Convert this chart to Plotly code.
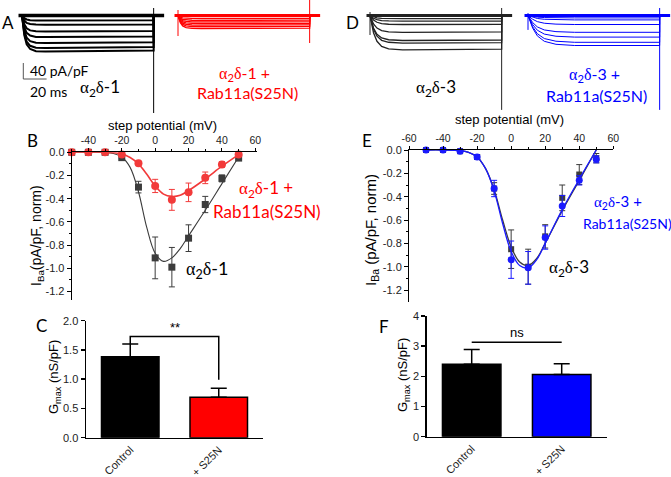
import plotly.graph_objects as go

W, H = 671, 477

# ---------------- data ----------------
# Panels A / D: current sweeps, steady amplitude of each sweep (pA/pF)
amp_a1_ctrl = [-12.5, -23, -40, -54, -69, -81.5, -90]
amp_a1_s25n = [-7.5, -12, -16, -20, -24, -28, -32.5]
amp_a3_ctrl = [-8, -14, -22.5, -42, -62.5, -69, -86]
amp_a3_s25n = [-6, -11, -22.5, -42, -54, -67, -75]
# activation time course read from the sweeps (ms, fraction of amplitude)
act_t_a1 = [0, 1, 2, 4, 7, 12, 20, 113]
act_f_a1 = [0, 0.3, 0.55, 0.8, 0.93, 0.99, 1.0, 0.97]
act_t_a3 = [0, 1.5, 3, 6, 10, 16, 28, 113]
act_f_a3 = [0, 0.25, 0.5, 0.75, 0.9, 0.97, 1.0, 0.98]
act_t_a3b = [0, 2, 4, 8, 14, 24, 40, 113]
act_f_a3b = [0, 0.2, 0.42, 0.68, 0.86, 0.96, 1.0, 1.0]
step_ms = 113
# transients at step onset / offset: [top, bottom] (pA/pF)
onset_a1_s25n = [13.75, -51.25]
onset_a3_ctrl = [8.75, -48.75]
onset_a3_s25n = [6, -36]
tail_a1_ctrl = [18.75, -243.75]
tail_a1_s25n = [38.75, -68.75]
tail_a3_ctrl = [18.75, -236]
tail_a3_s25n = [18.75, -236]
scale_pa = 40
scale_ms = 20

# Panels B / E: normalized I-V
volt = [-50, -40, -30, -20, -10, 0, 10, 20, 30, 40, 50]
b_ctrl = [0, 0, 0, -0.046, -0.30, -0.91, -0.99, -0.74, -0.45, -0.225, -0.05]
b_ctrl_err = [0, 0, 0, 0.01, 0.05, 0.18, 0.17, 0.115, 0.07, 0.03, 0.01]
b_s25n = [0, 0, 0, -0.02, -0.095, -0.29, -0.41, -0.345, -0.22, -0.105, -0.02]
b_s25n_err = [0, 0, 0, 0.01, 0.015, 0.057, 0.09, 0.08, 0.05, 0.025, 0.01]
e_ctrl = [0, 0, -0.01, -0.06, -0.33, -0.85, -1.0, -0.74, -0.41, -0.21, -0.07]
e_ctrl_err = [0, 0, 0.005, 0.02, 0.05, 0.165, 0.15, 0.1, 0.11, 0.085, 0.04]
e_s25n = [0, 0, -0.01, -0.06, -0.33, -0.94, -1.01, -0.75, -0.48, -0.26, -0.08]
e_s25n_err = [0, 0, 0.005, 0.02, 0.07, 0.16, 0.14, 0.1, 0.09, 0.04, 0.03]
# fitted curves
fit_v = [-50, -40, -30, -25, -20, -15, -10, -5, 0, 5, 10, 15, 20, 30, 40, 50]
fit_b_ctrl = [0, 0, -0.002, -0.01, -0.04, -0.13, -0.34, -0.65, -0.87, -0.94, -0.91, -0.83, -0.72, -0.5, -0.27, -0.04]
fit_b_s25n = [0, 0, 0, -0.003, -0.015, -0.045, -0.1, -0.19, -0.29, -0.36, -0.38, -0.37, -0.33, -0.23, -0.12, -0.02]
fit_e_ctrl = [0, 0, -0.005, -0.02, -0.06, -0.16, -0.34, -0.6, -0.83, -0.96, -0.99, -0.93, -0.8, -0.52, -0.26, 0.0]
fit_e_s25n = [0, 0, -0.005, -0.02, -0.06, -0.16, -0.35, -0.63, -0.87, -0.99, -1.01, -0.94, -0.8, -0.51, -0.25, 0.0]
iv_xticks = [-60, -40, -20, 0, 20, 40, 60]
iv_xticklabels = ["-60", "-40", "-20", "0", "20", "40", "60"]
iv_yticks = [0, -0.2, -0.4, -0.6, -0.8, -1.0, -1.2]
iv_yticklabels = ["0.0", "-0.2", "-0.4", "-0.6", "-0.8", "-1.0", "-1.2"]

# Panels C / F: Gmax
groups = ["Control", "+ S25N"]
gmax_a1 = [1.385, 0.69]
gmax_a1_err = [0.215, 0.155]
gmax_a3 = [2.4, 2.06]
gmax_a3_err = [0.49, 0.36]
c_yticks = [0, 0.5, 1.0, 1.5, 2.0]
c_yticklabels = ["0.0", "0.5", "1.0", "1.5", "2.0"]
f_yticks = [0, 1, 2, 3, 4]

# ---------------- figure ----------------
def px(x):
    return x / W


def py(y):
    return 1 - y / H


BLACK = "#000000"
RED = "#ff0000"
BLUE = "#0000ff"
SANS = "Liberation Sans, Arial, sans-serif"
HUM = "Lato, Open Sans, sans-serif"

fig = go.Figure()

# ---- trace strip (A and D)
MS_PER_PX = 20 / 23.3
PA_PER_PX = 2.5
BASE_PX = 15.5
T0_PX = 22
offsets = {"a1c": 0.0, "a1s": 156 * MS_PER_PX, "a3c": 348 * MS_PER_PX, "a3s": 506 * MS_PER_PX}


def sweeps(off, amps, kt, kf):
    xs, ys = [], []
    for a in amps:
        xs += [off + t for t in kt] + [off + step_ms, None]
        ys += [a * f for f in kf] + [0, None]
    return xs, ys


def add_group(off, amps, kt, kf, color, lw, blw, onset, tail):
    xs, ys = sweeps(off, amps, kt, kf)
    fig.add_trace(go.Scatter(x=xs, y=ys, mode="lines", line=dict(color=color, width=lw),
                             xaxis="x", yaxis="y", hoverinfo="skip", showlegend=False))
    fig.add_trace(go.Scatter(x=[off - 3, off + step_ms + 9], y=[0, 0], mode="lines",
                             line=dict(color=color, width=blw), xaxis="x", yaxis="y",
                             hoverinfo="skip", showlegend=False))
    vx, vy = [], []
    if onset is not None:
        vx += [off, off, None]
        vy += [onset[0], onset[1], None]
    vx += [off + step_ms, off + step_ms]
    vy += [tail[0], tail[1]]
    fig.add_trace(go.Scatter(x=vx, y=vy, mode="lines", line=dict(color=color, width=1),
                             xaxis="x", yaxis="y", hoverinfo="skip", showlegend=False))


add_group(offsets["a1c"], amp_a1_ctrl, act_t_a1, act_f_a1, BLACK, 2.0, 3.5, None, tail_a1_ctrl)
add_group(offsets["a1s"], amp_a1_s25n, act_t_a1, act_f_a1, RED, 1.3, 3, onset_a1_s25n, tail_a1_s25n)
add_group(offsets["a3c"], amp_a3_ctrl, act_t_a3, act_f_a3, "#222222", 1.3, 3, onset_a3_ctrl, tail_a3_ctrl)
add_group(offsets["a3s"], amp_a3_s25n, act_t_a3b, act_f_a3b, BLUE, 1.0, 3, onset_a3_s25n, tail_a3_s25n)

# scale bar
sb_x0 = 1.3 * MS_PER_PX
sb_y0 = -(79 - BASE_PX) * PA_PER_PX
fig.add_trace(go.Scatter(x=[sb_x0, sb_x0, sb_x0 + scale_ms], y=[sb_y0 + scale_pa, sb_y0, sb_y0],
                         mode="lines", line=dict(color="#555555", width=1), xaxis="x", yaxis="y",
                         hoverinfo="skip", showlegend=False))

# ---- I-V panels
def iv(xa, ya, v, y, err, color, symbol, size, fitv, fity, fitw):
    fig.add_trace(go.Scatter(x=fitv, y=fity, mode="lines", line=dict(color=color, width=fitw, shape="spline"),
                             xaxis=xa, yaxis=ya, hoverinfo="skip", showlegend=False, cliponaxis=False))
    fig.add_trace(go.Scatter(x=v, y=y, mode="markers",
                             marker=dict(color=color, symbol=symbol, size=size),
                             error_y=dict(type="data", array=err, color=color, thickness=1, width=3),
                             xaxis=xa, yaxis=ya, hoverinfo="skip", showlegend=False, cliponaxis=False))


iv("x2", "y2", volt, b_ctrl, b_ctrl_err, "#3c3c3c", "square", 7, fit_v, fit_b_ctrl, 1.1)
iv("x2", "y2", volt, b_s25n, b_s25n_err, "#f23a3a", "circle", 8, fit_v, fit_b_s25n, 1.6)
iv("x3", "y3", volt, e_ctrl, e_ctrl_err, "#3c3c3c", "square", 6, fit_v, fit_e_ctrl, 1.3)
iv("x3", "y3", volt, e_s25n, e_s25n_err, "#1a1aff", "circle", 7, fit_v, fit_e_s25n, 1.3)

# ---- Gmax bars
def bars(xa, ya, vals, errs, colors):
    fig.add_trace(go.Bar(x=groups, y=vals, width=0.65, marker=dict(color=colors, line=dict(color=BLACK, width=1.5)),
                         error_y=dict(type="data", array=errs, arrayminus=[0] * len(errs), symmetric=False,
                                      color=BLACK, thickness=1.5, width=8),
                         xaxis=xa, yaxis=ya, hoverinfo="skip", showlegend=False))


bars("x4", "y4", gmax_a1, gmax_a1_err, [BLACK, RED])
bars("x5", "y5", gmax_a3, gmax_a3_err, [BLACK, BLUE])

# significance brackets
fig.add_trace(go.Scatter(x=[groups[0], groups[0], groups[1], groups[1]], y=[1.6, 1.73, 1.73, 0.99],
                         mode="lines", line=dict(color=BLACK, width=1.5), xaxis="x4", yaxis="y4",
                         hoverinfo="skip", showlegend=False, cliponaxis=False))
fig.add_trace(go.Scatter(x=[groups[0], groups[1]], y=[3.13, 3.13],
                         mode="lines", line=dict(color=BLACK, width=1.5), xaxis="x5", yaxis="y5",
                         hoverinfo="skip", showlegend=False, cliponaxis=False))

# ---------------- layout ----------------
tick_font = dict(family=SANS, size=11, color="#222222")
xtick_font = dict(family=SANS, size=10.5, color="#222222")


def iv_xaxis(dom, rng):
    return dict(domain=dom, range=rng, side="top", showline=True, linecolor=BLACK, linewidth=1,
                ticks="outside", ticklen=3, tickcolor=BLACK, tickmode="array", tickvals=iv_xticks,
                ticktext=iv_xticklabels, tickfont=xtick_font, showgrid=False, zeroline=False,
                automargin=False,
                minor=dict(tickmode="array", tickvals=[-50, -30, -10, 10, 30, 50], ticks="outside",
                           ticklen=2, tickcolor=BLACK))


def iv_yaxis(dom, rng, anchor):
    return dict(domain=dom, range=rng, anchor=anchor, showline=True, linecolor=BLACK, linewidth=1,
                ticks="outside", ticklen=4, tickcolor=BLACK, tickmode="array", tickvals=iv_yticks,
                ticktext=iv_yticklabels, tickfont=tick_font, showgrid=False, zeroline=False,
                automargin=False,
                minor=dict(tickmode="array", tickvals=[-0.1, -0.3, -0.5, -0.7, -0.9, -1.1],
                           ticks="outside", ticklen=2, tickcolor=BLACK))


def bar_xaxis(dom, anchor):
    return dict(domain=dom, anchor=anchor, range=[-0.5, 1.5], showline=True, linecolor=BLACK, linewidth=1.5,
                ticks="", tickangle=-45, tickfont=dict(family=SANS, size=11, color="#222222"),
                showgrid=False, zeroline=False, automargin=False)


def bar_yaxis(dom, rng, anchor, tv, tt):
    return dict(domain=dom, range=rng, anchor=anchor, showline=True, linecolor=BLACK, linewidth=1.5,
                ticks="outside", ticklen=4, tickcolor=BLACK, tickwidth=1.5, tickmode="array",
                tickvals=tv, ticktext=tt, tickfont=tick_font, showgrid=False, zeroline=False,
                automargin=False)


fig.update_layout(
    width=W, height=H, margin=dict(l=0, r=0, t=0, b=0, pad=0, autoexpand=False), autosize=False,
    paper_bgcolor="white", plot_bgcolor="rgba(0,0,0,0)",
    xaxis=dict(domain=[0, 1], range=[-T0_PX * MS_PER_PX, (W - T0_PX) * MS_PER_PX],
               visible=False, anchor="y", automargin=False),
    yaxis=dict(domain=[py(120), 1], range=[-(120 - BASE_PX) * PA_PER_PX, BASE_PX * PA_PER_PX],
               visible=False, anchor="x", automargin=False),
    xaxis2=dict(anchor="y2", **iv_xaxis([px(71.7), px(257)], [-50, 61])),
    yaxis2=iv_yaxis([py(300), py(152.3)], [-1.273, 0], "x2"),
    xaxis3=dict(anchor="y3", **iv_xaxis([px(409), px(613.3)], [-60, 60])),
    yaxis3=iv_yaxis([py(301.7), py(150)], [-1.3, 0], "x3"),
    xaxis4=bar_xaxis([px(86), px(263)], "y4"),
    yaxis4=bar_yaxis([py(437.7), py(320.7)], [0, 2.0], "x4", c_yticks, c_yticklabels),
    xaxis5=bar_xaxis([px(426.7), px(606.7)], "y5"),
    yaxis5=bar_yaxis([py(436.7), py(316)], [0, 4], "x5", f_yticks, [str(v) for v in f_yticks]),
    showlegend=False,
)

SER = "font-family:Liberation Serif"


def ad(n):
    return (f"<span style='{SER}'>α</span><sub>2</sub><span style='{SER}'>δ</span>-{n}")


def note(x, y, text, size, color=BLACK, family=HUM, angle=0, xanchor="center"):
    fig.add_annotation(x=px(x), y=py(y), xref="paper", yref="paper", text=text, showarrow=False,
                       font=dict(family=family, size=size, color=color), textangle=angle,
                       xanchor=xanchor, yanchor="middle")


# panel letters
for lab, x, y in [("A", 8, 22), ("D", 352, 22), ("B", 32, 140), ("E", 366.7, 140), ("C", 41.7, 325), ("F", 384, 326)]:
    note(x, y, lab, 17)

# panel A / D texts
note(28, 70.5, "40 pA/pF", 14, xanchor="left")
note(28, 91, "20 ms", 14, xanchor="left")
note(100, 88, ad(1), 17)
note(244, 73, ad(1) + " +", 16, RED)
note(247, 93, "Rab11a(S25N)", 16, RED)
note(436, 88, ad(3), 17)
note(594, 75, ad(3) + " +", 16, BLUE)
note(596, 95, "Rab11a(S25N)", 16, BLUE)

# panel B / E texts
note(162, 125, "step potential (mV)", 13, family=SANS)
note(510, 120, "step potential (mV)", 13, family=SANS)
note(37, 236, "I<sub>Ba</sub>(pA/pF, norm)", 14, family=SANS, angle=-90)
note(372, 230, "I<sub>Ba</sub> (pA/pF, norm)", 15, family=SANS, angle=-90)
note(266, 189, ad(1) + " +", 17, RED)
note(267, 211, "Rab11a(S25N)", 17, RED)
note(207, 269, ad(1), 18)
note(618, 202, ad(3) + " +", 15, BLUE)
note(627, 223, "Rab11a(S25N)", 14, BLUE)
note(569, 268, ad(3), 17)

# panel C / F texts
note(54, 377, "G<sub>max</sub> (nS/pF)", 13, family=SANS, angle=-90)
note(403, 375, "G<sub>max</sub> (nS/pF)", 13, family=SANS, angle=-90)
fig.add_annotation(x=0.5, y=1.88, xref="x4", yref="y4", text="**", showarrow=False,
                   font=dict(family=SANS, size=13, color=BLACK), yanchor="middle")
fig.add_annotation(x=0.5, y=3.45, xref="x5", yref="y5", text="ns", showarrow=False,
                   font=dict(family=SANS, size=13, color=BLACK), yanchor="middle")

fig.write_html("out.html", config={"displayModeBar": False, "staticPlot": True},
               post_script="document.body.style.margin='0px';")
